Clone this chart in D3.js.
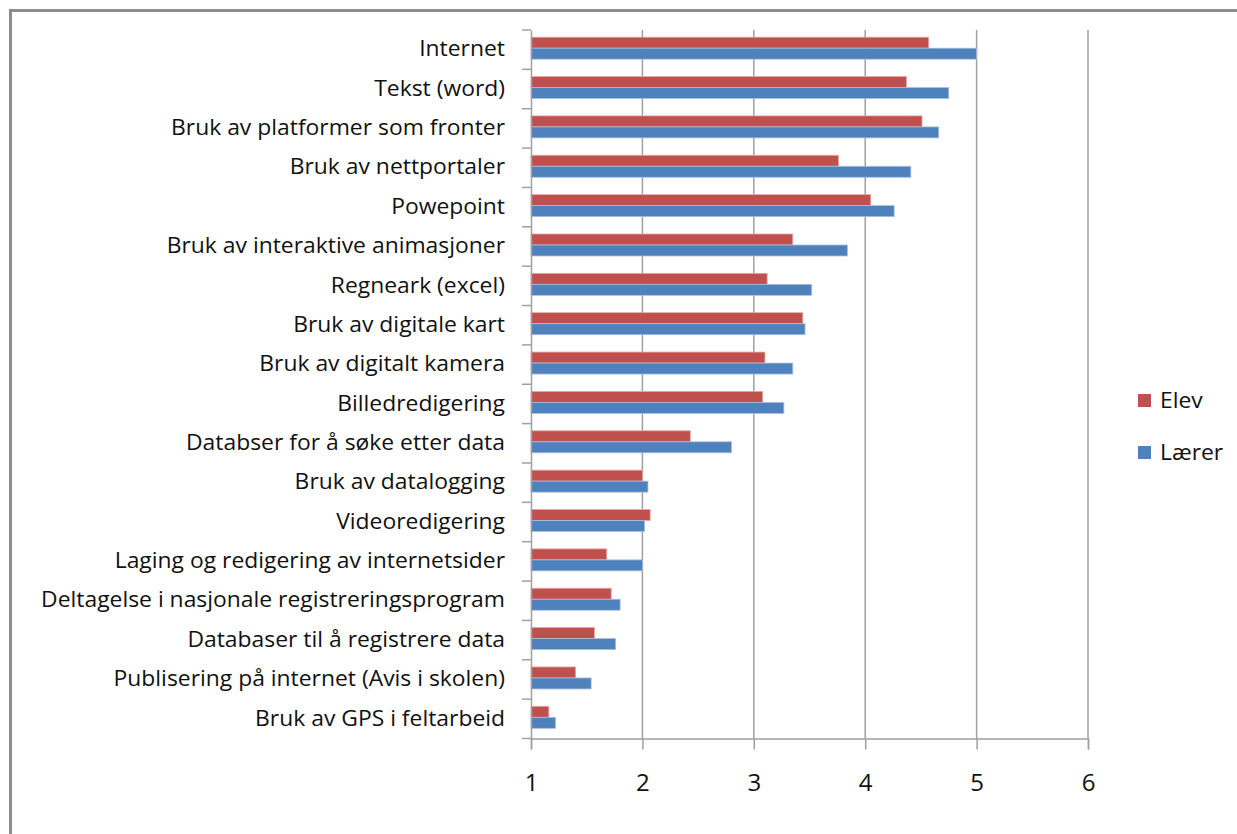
<!DOCTYPE html>
<html>
<head>
<meta charset="utf-8">
<script src="https://cdn.jsdelivr.net/npm/d3@7/dist/d3.min.js"></script>
<style>
  html, body { margin: 0; padding: 0; background: #fff; }
  svg { display: block; }
  text { font-family: "Open Sans", "DejaVu Sans", sans-serif; fill: #111; }
</style>
</head>
<body>
<svg id="chart" width="1237" height="834"></svg>
<script>
// Categories, top to bottom
const categories = [
  "Internet",
  "Tekst (word)",
  "Bruk av platformer som fronter",
  "Bruk av nettportaler",
  "Powepoint",
  "Bruk av interaktive animasjoner",
  "Regneark (excel)",
  "Bruk av digitale kart",
  "Bruk av digitalt kamera",
  "Billedredigering",
  "Databser for å søke etter data",
  "Bruk av datalogging",
  "Videoredigering",
  "Laging og redigering av internetsider",
  "Deltagelse i nasjonale registreringsprogram",
  "Databaser til å registrere data",
  "Publisering på internet (Avis i skolen)",
  "Bruk av GPS i feltarbeid"
];

// Mean score per category
const elev = [4.57, 4.37, 4.51, 3.76, 4.05, 3.35, 3.12, 3.44, 3.10, 3.08,
              2.43, 2.00, 2.07, 1.68, 1.72, 1.57, 1.40, 1.16];
const laerer = [5.00, 4.75, 4.66, 4.41, 4.26, 3.84, 3.52, 3.46, 3.35, 3.27,
                2.80, 2.05, 2.02, 2.00, 1.80, 1.76, 1.54, 1.22];

const seriesNames = ["Elev", "Lærer"];
const seriesColors = ["#C0504D", "#4F81BD"];
const xTicks = [1, 2, 3, 4, 5, 6];

const svg = d3.select("#chart");

// Outer chart frame
svg.append("rect")
  .attr("x", 10.5).attr("y", 10.5)
  .attr("width", 1300).attr("height", 900)
  .attr("fill", "none")
  .attr("stroke", "#8c8c8c")
  .attr("stroke-width", 3);

const plot = { left: 531, right: 1088, top: 30, bottom: 738.5 };

const x = d3.scaleLinear().domain([1, 6]).range([plot.left, plot.right]);
const y = d3.scaleBand().domain(categories).range([plot.top, plot.bottom]);

const barH = 11;
const gridColor = "#a0a0a0";
const labelStretch = 1.09;

// Vertical gridlines
svg.append("g")
  .selectAll("line")
  .data(xTicks.slice(1))
  .join("line")
  .attr("x1", d => x(d)).attr("x2", d => x(d))
  .attr("y1", plot.top).attr("y2", plot.bottom)
  .attr("stroke", gridColor).attr("stroke-width", 1.5);

// Bars
const rows = categories.map((c, i) => ({ c, vals: [elev[i], laerer[i]] }));
const barG = svg.append("g");
rows.forEach(r => {
  const y0 = y(r.c) + (y.bandwidth() - 2 * barH) / 2 - 1.5;
  r.vals.forEach((v, k) => {
    barG.append("rect")
      .attr("x", x(1))
      .attr("y", y0 + k * barH)
      .attr("width", x(v) - x(1))
      .attr("height", barH)
      .attr("fill", seriesColors[k])
      .attr("stroke", k === 0 ? "#e3a9a7" : "#a9c0de")
      .attr("stroke-width", 0.8);
  });
});

// Category axis
const yAxis = d3.axisLeft(y).tickSize(0).tickPadding(26);
const yAxisG = svg.append("g")
  .attr("transform", `translate(${plot.left},0)`)
  .call(yAxis);
yAxisG.select(".domain").attr("stroke", gridColor).attr("stroke-width", 1.5);
yAxisG.selectAll("text")
  .attr("x", 0)
  .attr("transform", `translate(-26,0) scale(${labelStretch},1)`)
  .attr("font-size", 21)
  .attr("font-family", "'Open Sans', sans-serif")
  .attr("fill", "#111");

// Category boundary tick marks
svg.append("g")
  .selectAll("line")
  .data(d3.range(categories.length + 1))
  .join("line")
  .attr("x1", plot.left - 9).attr("x2", plot.left)
  .attr("y1", i => plot.top + i * y.step())
  .attr("y2", i => plot.top + i * y.step())
  .attr("stroke", gridColor).attr("stroke-width", 1.5);

// Value axis
const xAxis = d3.axisBottom(x).tickValues(xTicks).tickSize(11).tickPadding(24)
  .tickFormat(d3.format("d"));
const xAxisG = svg.append("g")
  .attr("transform", `translate(0,${plot.bottom})`)
  .call(xAxis);
xAxisG.select(".domain").attr("stroke", gridColor).attr("stroke-width", 1.5);
xAxisG.selectAll(".tick line").attr("stroke", gridColor).attr("stroke-width", 1.5);
xAxisG.selectAll("text")
  .attr("font-size", 24)
  .attr("font-family", "'Open Sans', sans-serif")
  .attr("fill", "#111");

// Legend
const legend = svg.append("g").attr("transform", "translate(1138,394)");
seriesNames.forEach((name, k) => {
  const g = legend.append("g").attr("transform", `translate(0,${k * 52})`);
  g.append("rect")
    .attr("width", 13).attr("height", 13)
    .attr("fill", seriesColors[k]);
  g.append("text")
    .attr("transform", `translate(22,7) scale(${labelStretch},1)`)
    .attr("dy", "0.35em")
    .attr("font-size", 21)
    .text(name);
});
</script>
</body>
</html>
